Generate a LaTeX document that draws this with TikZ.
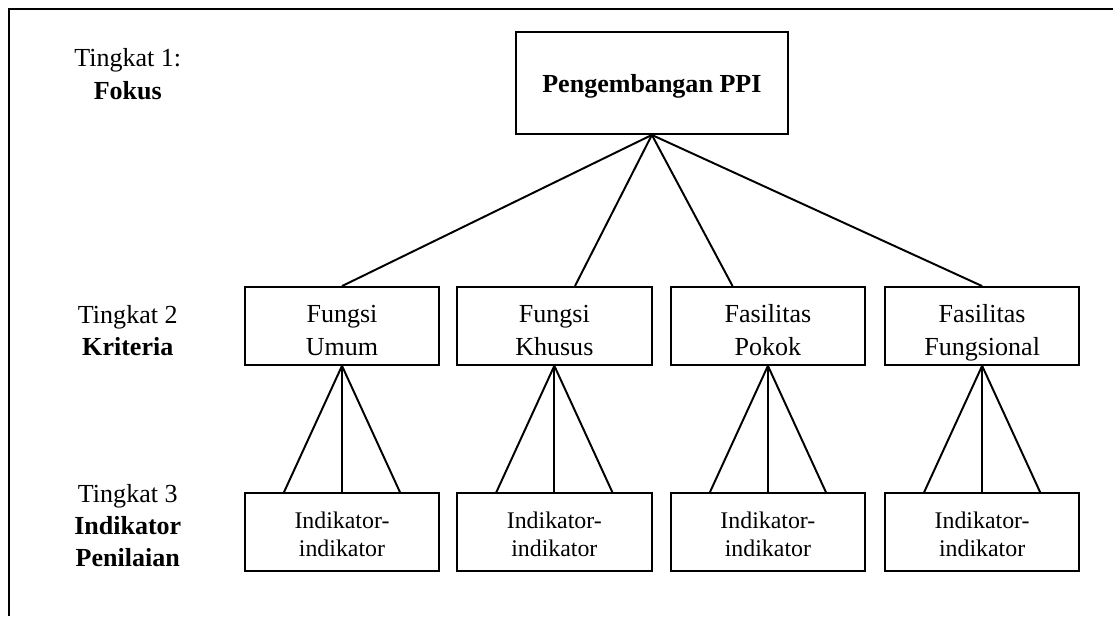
\documentclass[tikz,border=0pt]{standalone}
\usepackage{fontspec}
\setmainfont{Liberation Serif}
\usetikzlibrary{calc}
\newcommand{\duabaris}[4]{\rule{0pt}{#3}#1\\#2\rule[-#4]{0pt}{#4}}
\begin{document}
\begin{tikzpicture}[line width=0.9pt,
  kotak/.style={draw,align=center,inner sep=0pt,minimum width=3.15cm,minimum height=1.26cm,font=\fontsize{12}{15.2}\selectfont},
  kecil/.style={kotak,font=\fontsize{11}{12.9}\selectfont},
  tingkat/.style={align=center,font=\fontsize{12}{14.8}\selectfont}]
	  \useasboundingbox (0,0) rectangle (18.03,-9.98);
	  \draw (0.146,-9.98) -- (0.146,-0.146) -- (18.03,-0.146);
	  \node[tingkat] (t1) at (2.07,-1.20) {Tingkat 1:\\\textbf{Fokus}};
	  \node[tingkat] (t2) at (2.07,-5.35) {Tingkat 2\\\textbf{Kriteria}};
	  \node[tingkat] (t3) at (2.07,-8.51) {Tingkat 3\\\textbf{Indikator}\\\textbf{Penilaian}};
	  \node[kotak,minimum width=4.41cm,minimum height=1.65cm] (fokus) at (10.56,-1.345) {\rule{0pt}{11.3pt}\textbf{Pengembangan PPI}\rule[-3pt]{0pt}{3pt}};
	  \node[kotak] (k1) at (5.54,-5.28) {\duabaris{Fungsi}{Umum}{15.4pt}{3pt}};
	  \node[kotak] (k2) at (8.98,-5.28) {\duabaris{Fungsi}{Khusus}{15.4pt}{3pt}};
	  \node[kotak] (k3) at (12.44,-5.28) {\duabaris{Fasilitas}{Pokok}{15.4pt}{3pt}};
	  \node[kotak] (k4) at (15.91,-5.28) {\duabaris{Fasilitas}{Fungsional}{15.4pt}{3pt}};
	  \node[kecil] (i1) at (5.54,-8.62) {\duabaris{Indikator-}{indikator}{12.2pt}{3pt}};
	  \node[kecil] (i2) at (8.98,-8.62) {\duabaris{Indikator-}{indikator}{12.2pt}{3pt}};
	  \node[kecil] (i3) at (12.44,-8.62) {\duabaris{Indikator-}{indikator}{12.2pt}{3pt}};
	  \node[kecil] (i4) at (15.91,-8.62) {\duabaris{Indikator-}{indikator}{12.2pt}{3pt}};
	  \draw (fokus.south) -- (k1.north);
	  \draw (fokus.south) -- ($(k2.north west)!0.605!(k2.north east)$);
	  \draw (fokus.south) -- ($(k3.north west)!0.32!(k3.north east)$);
	  \draw (fokus.south) -- (k4.north);
	  \foreach \i in {1,...,4} {
	    \draw (k\i.south) -- ($(i\i.north)+(-0.94,0)$);
	    \draw (k\i.south) -- (i\i.north);
	    \draw (k\i.south) -- ($(i\i.north)+(0.94,0)$);
	  }
	\end{tikzpicture}
\end{document}
